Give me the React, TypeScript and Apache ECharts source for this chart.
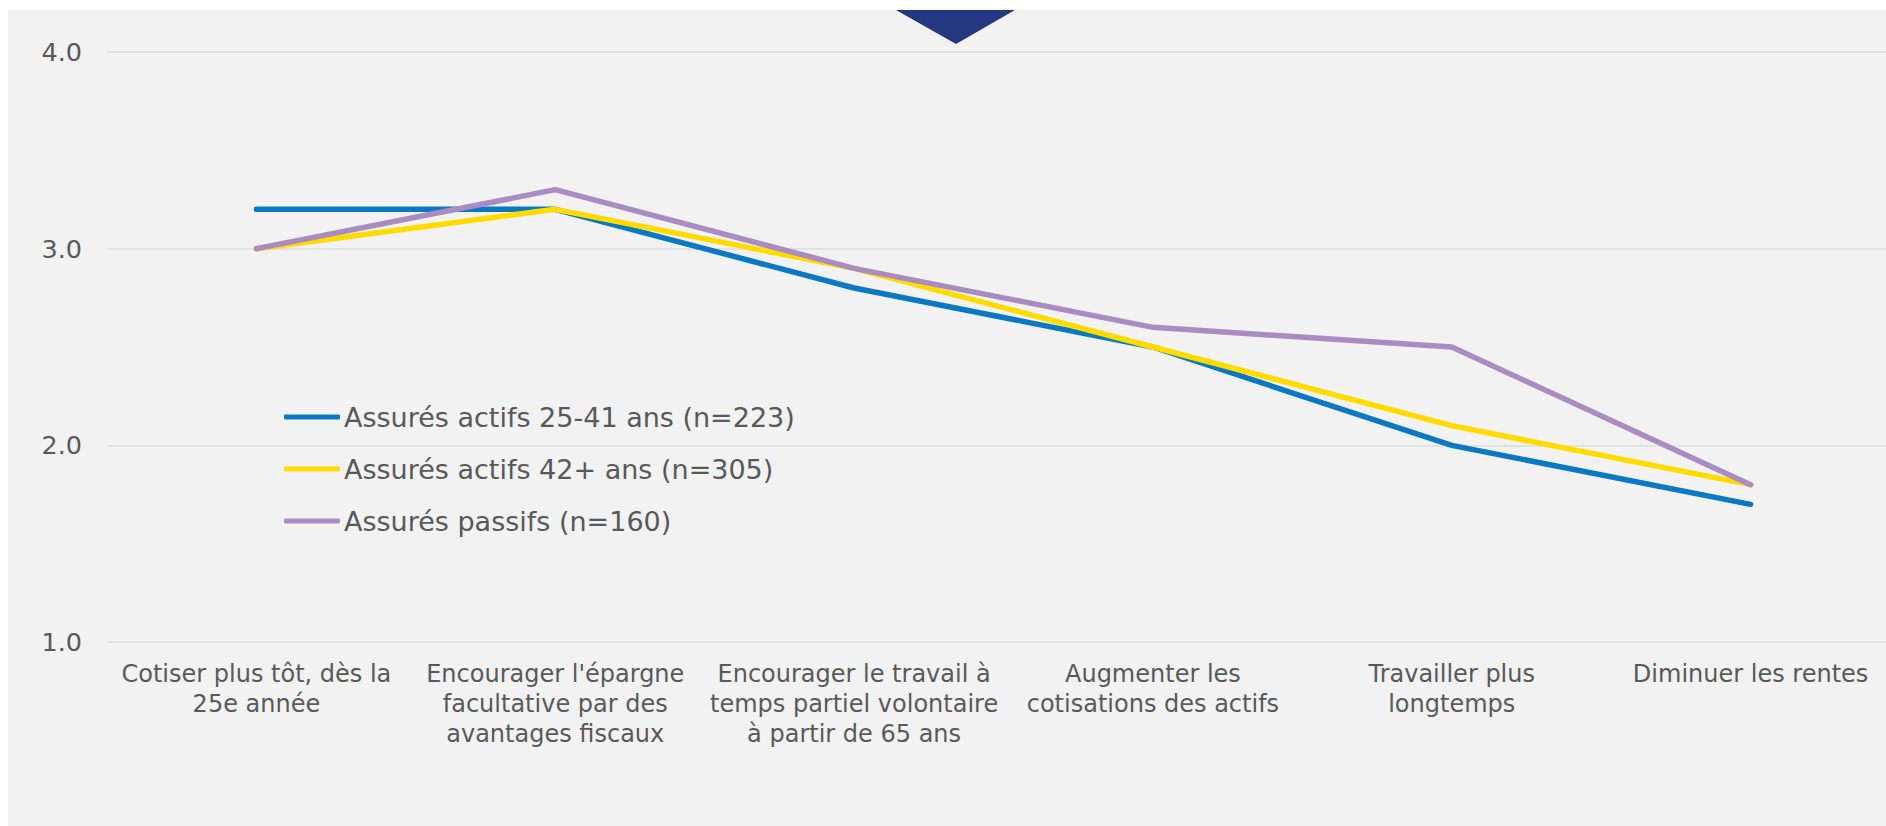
import React, { useEffect, useRef } from "react";
import * as echarts from "echarts";

const categories = [
  "Cotiser plus tôt, dès la\n25e année",
  "Encourager l'épargne\nfacultative par des\navantages fiscaux",
  "Encourager le travail à\ntemps partiel volontaire\nà partir de 65 ans",
  "Augmenter les\ncotisations des actifs",
  "Travailler plus\nlongtemps",
  "Diminuer les rentes",
];

const seriesNames = [
  "Assurés actifs 25-41 ans (n=223)",
  "Assurés actifs 42+ ans (n=305)",
  "Assurés passifs (n=160)",
];

const actifsJeunes = [3.2, 3.2, 2.8, 2.5, 2.0, 1.7];
const actifsAges = [3.0, 3.2, 2.9, 2.5, 2.1, 1.8];
const passifs = [3.0, 3.3, 2.9, 2.6, 2.5, 1.8];

const colors = ["#0a78c3", "#ffdb00", "#aa8cc2"];

const FONT = "Verdana, 'DejaVu Sans', sans-serif";

export default function App() {
  const ref = useRef<HTMLDivElement>(null);

  useEffect(() => {
    if (!ref.current) return;
    const chart = echarts.init(ref.current, undefined, { renderer: "svg" });
    const values = [actifsJeunes, actifsAges, passifs];
    chart.setOption({
      animation: false,
      backgroundColor: "#f2f2f2",
      grid: { left: 99, right: 0, top: 42, bottom: 184, containLabel: false },
      legend: {
        orient: "vertical",
        left: 271,
        top: 387,
        itemWidth: 56,
        itemHeight: 5,
        itemGap: 22,
        icon: "roundRect",
        data: seriesNames,
        textStyle: {
          fontFamily: FONT,
          fontSize: 27,
          lineHeight: 30,
          color: "#595959",
          padding: [0, 0, 0, -1],
        },
      },
      xAxis: {
        type: "category",
        data: categories,
        boundaryGap: true,
        axisLine: { show: false },
        axisTick: { show: false },
        axisLabel: {
          interval: 0,
          margin: 17,
          fontFamily: FONT,
          fontSize: 24,
          lineHeight: 30,
          color: "#595959",
          align: "center",
        },
      },
      yAxis: {
        type: "value",
        min: 1,
        max: 4,
        interval: 1,
        axisLine: { show: false },
        axisTick: { show: false },
        splitLine: { lineStyle: { color: "#e2e2e2", width: 2 } },
        axisLabel: {
          margin: 25,
          fontFamily: FONT,
          fontSize: 25.5,
          color: "#595959",
          formatter: (v: number) => v.toFixed(1),
        },
      },
      series: seriesNames.map((name, i) => ({
        name,
        type: "line",
        data: values[i],
        symbol: "none",
        showSymbol: false,
        lineStyle: { color: colors[i], width: 5.5, cap: "round", join: "round" },
        itemStyle: { color: colors[i] },
        z: 2 + i,
      })),
      graphic: [
        {
          type: "polygon",
          shape: { points: [[888, 0], [1007, 0], [948, 34]] },
          style: { fill: "#243780" },
          z: 100,
        },
      ],
    });
    return () => chart.dispose();
  }, []);

  return (
    <div
      style={{
        position: "fixed",
        left: 0,
        top: 0,
        width: 1886,
        height: 826,
        background: "#ffffff",
        overflow: "hidden",
      }}
    >
      <div
        ref={ref}
        style={{ position: "absolute", left: 8, top: 10, width: 1892, height: 816 }}
      />
    </div>
  );
}
